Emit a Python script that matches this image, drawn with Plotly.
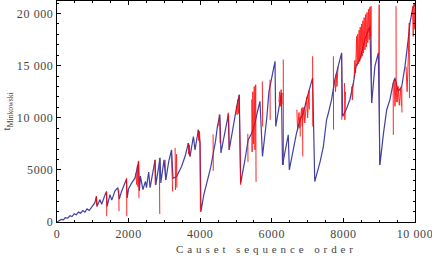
import plotly.graph_objects as go

# ---- data ----
blue_x = [0, 60, 120, 180, 230, 300, 360, 420, 480, 540, 600, 660,
          720, 780, 840, 900, 960, 1010, 1060, 1100, 1120, 1200, 1250, 1340,
          1380, 1400, 1480, 1530, 1620, 1700, 1740, 1800, 1880, 1940, 1960, 2000,
          2080, 2180, 2250, 2280, 2300, 2330, 2400, 2470, 2500, 2560, 2600, 2680,
          2740, 2760, 2820, 2880, 2900, 2990, 3040, 3120, 3200, 3240, 3340, 3480,
          3575, 3670, 3715, 3810, 3855, 3950, 3995, 4020, 4100, 4200, 4290, 4360,
          4430, 4480, 4550, 4580, 4650, 4720, 4785, 4810, 4900, 4960, 5020, 5090,
          5130, 5250, 5340, 5440, 5530, 5600, 5670, 5740, 5800, 5860, 5920, 5990,
          6090, 6110, 6190, 6270, 6300, 6370, 6460, 6490, 6600, 6690, 6790, 6880,
          6970, 7090, 7140, 7200, 7350, 7440, 7530, 7580, 7670, 7760, 7860, 7950,
          7980, 8080, 8180, 8280, 8350, 8460, 8600, 8740, 8790, 8880, 8975, 9020,
          9120, 9210, 9300, 9390, 9440, 9530, 9630, 9720, 9810, 9860, 9930, 10000]
blue_y = [0, 150, 250, 200, 420, 380, 600, 520, 800, 700, 950, 850,
          1100, 950, 1250, 1100, 1400, 1600, 1850, 2450, 1500, 2150, 1700, 2600,
          2900, 1500, 2630, 2100, 3000, 3300, 2200, 2900, 3500, 4100, 2300, 3200,
          3700, 4230, 5300, 5800, 3000, 4400, 3100, 3900, 3300, 4800, 3300, 4800,
          5960, 3560, 4900, 6150, 3750, 5960, 4040, 5800, 6920, 4200, 4360, 5320,
          6280, 7570, 6280, 8200, 6920, 8850, 7570, 1000, 2600, 3900, 5190, 6500,
          7790, 9160, 10290, 6630, 8000, 9300, 10300, 6920, 8800, 10000, 11090, 12200,
          3700, 5960, 7880, 8530, 9490, 10600, 11570, 6280, 8000, 10000, 12500, 13650,
          15410, 9160, 10800, 12370, 5480, 6920, 8370, 5000, 6920, 8530, 9810, 10450,
          11730, 13330, 13820, 3880, 5800, 7240, 9810, 10450, 11730, 13650, 14930, 16220,
          10130, 10800, 11730, 13330, 14930, 15580, 17500, 18780, 11410, 14930, 16220, 5480,
          8530, 10770, 11730, 13330, 13820, 12500, 13010, 14930, 17500, 19100, 20380, 20900]

red_segments_x = [
    [1100, 1110], [1385, 1390], [1728, 1732], [1945, 1950],
    [2200, 2225, 2245, 2260, 2275, 2290],
    [2735, 2745], [2860, 2870], [3020, 3035],
    [3195, 3210, 3230], [3300, 3310, 3340, 3350],
    [3660, 3675, 3700, 3715], [3940, 3960, 3980, 3995, 4005],
    [4360, 4365], [4520, 4535, 4550, 4555], [4770, 4785, 4800, 4810],
    [5010, 5030, 5050, 5070, 5090, 5130], [5330, 5335],
    [5440, 5450, 5470, 5490, 5510, 5530, 5550, 5560],
    [5735, 5745], [5950, 5955], [6200, 6220, 6240, 6260, 6280, 6290],
    [6320, 6325],
    [6700, 6720, 6760, 6780, 6830, 6850, 6900, 6920, 6980, 7000, 7040, 7050],
    [6790, 6795], [6860, 6865], [7140, 7145], [7720, 7725],
    [7760, 7780, 7800, 7820, 7850], [7950, 7955], [8030, 8040, 8060],
    [8230, 8250, 8270],
    [8300, 8320, 8340, 8370, 8385, 8400, 8420, 8440, 8455, 8470, 8490, 8510, 8525,
     8545, 8560, 8580, 8600, 8620, 8640, 8660, 8680, 8700, 8720, 8740, 8760, 8770, 8790],
    [8990, 9000, 9010], [9390, 9395],
    [9420, 9440, 9470, 9500, 9530, 9560, 9600, 9620],
    [9470, 9475], [9630, 9635], [9750, 9780, 9810, 9840, 9845],
    [9930, 9950, 9970, 9990, 10000],
]
red_segments_y = [
    [2500, 1500], [2950, 550], [3100, 1030], [4230, 550],
    [4700, 3600, 5400, 3400, 5860, 2300],
    [5960, 3560], [6150, 770], [5960, 4040],
    [6900, 3500, 2920], [7110, 3080, 6500, 3300],
    [7570, 6500, 7400, 6280], [8850, 7800, 8700, 7570, 960],
    [8400, 4900], [9200, 10300, 9300, 7570], [10000, 10480, 9500, 6920],
    [11100, 10300, 11730, 10400, 12200, 3560], [8460, 5770],
    [11760, 6730, 12500, 7500, 13000, 6920, 13170, 3850],
    [13490, 9160], [13650, 9800], [11500, 12500, 11100, 12700, 11300, 12370],
    [15580, 5480],
    [10770, 8850, 10500, 9000, 10900, 9200, 11000, 9500, 12000, 10000, 12600, 10800],
    [10100, 8200], [11000, 6280], [15900, 9160], [15900, 8850],
    [13650, 12500, 14200, 13000, 14900], [16220, 9810], [13330, 9810, 12500],
    [13000, 11700, 13300],
    [13800, 15500, 14300, 17800, 15000, 18000, 15200, 18400, 15400, 18700, 15700, 19000, 15900,
     19300, 16200, 19600, 16500, 19900, 16800, 20100, 17200, 20400, 17500, 20600, 17800, 20700, 11410],
    [16000, 20850, 5480], [13330, 8370],
    [13650, 11100, 13400, 11500, 13000, 11200, 12800, 11100],
    [20700, 11500], [13000, 10500], [14900, 12500, 15500, 19100, 11890],
    [20700, 17800, 20900, 18500, 20500],
]

x_tick_vals = [0, 2000, 4000, 6000, 8000, 10000]
x_tick_text = ["0", "2000", "4000", "6000", "8000", "10 000"]
y_tick_vals = [0, 5000, 10000, 15000, 20000]
y_tick_text = ["0", "5000", "10 000", "15 000", "20 000"]

x_title = "Causet sequence order"
y_title = "t<sub>Minkowski</sub>"

# ---- build red polyline with gaps ----
red_x, red_y = [], []
for sx, sy in zip(red_segments_x, red_segments_y):
    red_x += sx + [None]
    red_y += sy + [None]

FONT = "Liberation Serif, Times New Roman, serif"

fig = go.Figure()
fig.add_trace(go.Scatter(x=blue_x, y=blue_y, mode="lines",
                         line=dict(color="rgb(64,64,165)", width=1.2),
                         showlegend=False, hoverinfo="skip"))
fig.add_trace(go.Scatter(x=red_x, y=red_y, mode="lines",
                         line=dict(color="rgb(255,0,0)", width=1.0),
                         opacity=0.85, connectgaps=False,
                         showlegend=False, hoverinfo="skip"))

axis_common = dict(showline=True, linecolor="black", linewidth=1.3, mirror="ticks",
                   ticks="inside", ticklen=4, tickwidth=1, tickcolor="black",
                   showgrid=False, zeroline=False,
                   tickfont=dict(family=FONT, size=12, color="#444"))

fig.update_xaxes(range=[0, 10000], tickvals=x_tick_vals, ticktext=x_tick_text,
                 minor=dict(ticks="inside", ticklen=2, dtick=500, tick0=0,
                            tickcolor="black", showgrid=False),
                 **axis_common)
fig.update_yaxes(range=[0, 21200], tickvals=y_tick_vals, ticktext=y_tick_text,
                 minor=dict(ticks="inside", ticklen=2, dtick=1000, tick0=0,
                            tickcolor="black", showgrid=False),
                 **axis_common)

fig.add_annotation(text=x_title, xref="paper", yref="paper",
                   x=0.584, y=-0.122, xanchor="center", yanchor="middle",
                   showarrow=False, font=dict(family=FONT, size=11, color="#444"))
fig.add_annotation(text=y_title, xref="paper", yref="paper",
                   x=-0.14, y=0.5, xanchor="center", yanchor="middle", textangle=-90,
                   showarrow=False, font=dict(family=FONT, size=11, color="#444"))

fig.update_layout(width=432, height=256,
                  margin=dict(l=57, r=17, t=1, b=34, pad=0),
                  paper_bgcolor="white", plot_bgcolor="white")

post = """
var gd = document.getElementById('{plot_id}');
document.body.style.margin = '0';
function sp(){
  gd.querySelectorAll('.annotation-text').forEach(function(t){
    if (t.textContent.indexOf('Causet') === 0) { t.style.letterSpacing = '3.9px'; }
  });
  gd.querySelectorAll('.xtick text, .ytick text').forEach(function(t){
    t.style.letterSpacing = '0.6px';
  });
}
sp();
gd.on('plotly_afterplot', sp);
"""

fig.write_html("out.html", post_script=post, config={"displayModeBar": False})
